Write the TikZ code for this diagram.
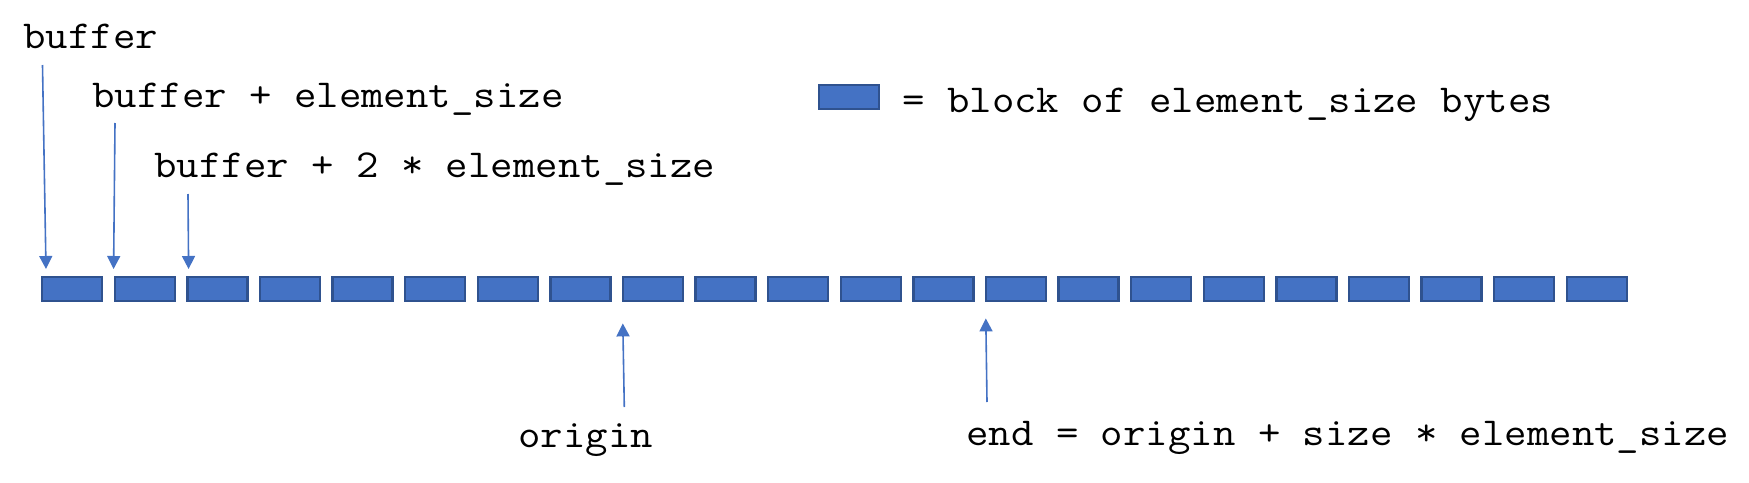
\documentclass[tikz,border=0pt]{standalone}
\usepackage{fontspec}
\setmonofont{Latin Modern Mono}[FakeStretch=1.1]
\usetikzlibrary{positioning,arrows.meta}
\definecolor{blockblue}{HTML}{4472C4}
\definecolor{blockedge}{HTML}{2F528F}
\tikzset{x=0.5pt, y=-0.5pt, % one unit is one pixel, y runs down
every node/.style={font=\ttfamily\fontsize{19.8}{24}\selectfont},
block/.style={draw=blockedge, fill=blockblue, line width=1.2pt, minimum width=30pt, minimum height=12pt, inner sep=0pt, anchor=north west}, % one element of the buffer
txt/.style={anchor=base west, inner sep=0pt}, % plain text labels
ptr/.style={draw=blockblue, line width=0.8pt, -{Triangle[width=6.5pt,length=6.5pt]}}, % pointer arrows
}
\begin{document}
\begin{tikzpicture}
\useasboundingbox (0,0) rectangle (1749,482);

% the buffer
\foreach \i in {0,...,21}
  \node[block] (b\i) at ({41+72.6*\i},276) {};

% legend
\node[block] (key) at (818,84) {};
\node[txt] (keytxt) at (902,112) {= block of element\_size bytes};

% labels
\node[txt] (buf) at (23,48) {buffer};
\node[txt] (buf1) at (92,107) {buffer + element\_size};
\node[txt] (buf2) at (154,177) {buffer + 2 * element\_size};
\node[txt] (org) at (518,447) {origin};
\node[txt] (fin) at (966,445) {end = origin + size * element\_size};

% pointers
\coordinate (t0) at (42.5,65);
\coordinate (t1) at (115,123);
\coordinate (t2) at (188,194);
\coordinate (t3) at (624.3,407);
\coordinate (t4) at (987,402);
\draw[ptr] (t0) -- ([xshift=2.5pt,yshift=3.5pt]b0.north west);
\draw[ptr] (t1) -- ([yshift=3.5pt]b1.north west);
\draw[ptr] (t2) -- ([xshift=1.2pt,yshift=3.5pt]b2.north west);
\draw[ptr] (t3) -- ([xshift=0.5pt,yshift=-10.5pt]b8.south west);
\draw[ptr] (t4) -- ([xshift=0.5pt,yshift=-8pt]b13.south west);

\end{tikzpicture}
\end{document}
